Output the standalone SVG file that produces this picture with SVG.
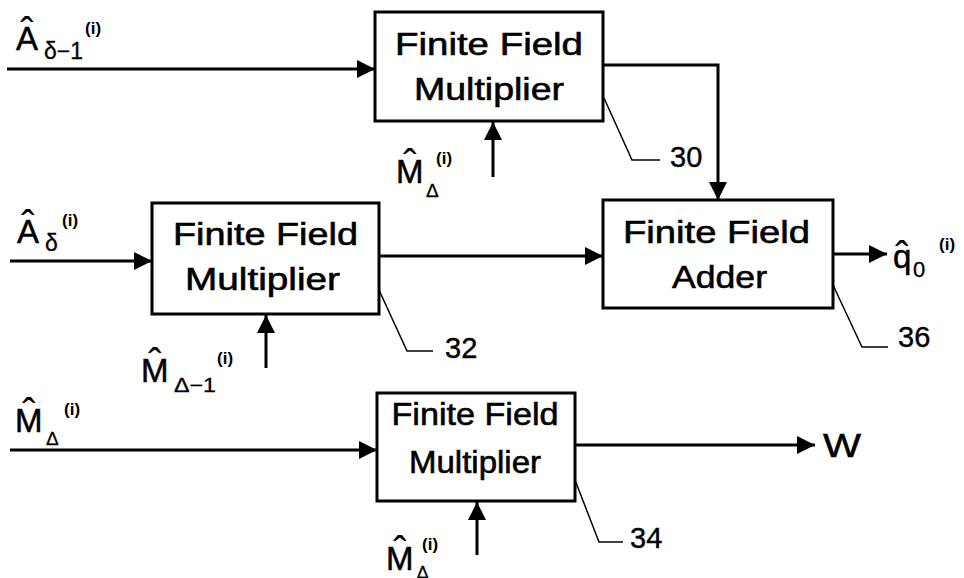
<svg xmlns="http://www.w3.org/2000/svg" width="964" height="578" viewBox="0 0 964 578">
  <defs>
    <marker id="arrow" viewBox="0 0 10 10" refX="10" refY="5" markerWidth="6" markerHeight="6" orient="auto" markerUnits="strokeWidth">
      <path d="M0,0 L10,5 L0,10 Z" fill="#000"/>
    </marker>
    <style>
      .box { fill: #fff; stroke: #000; stroke-width: 3; }
      .wire { fill: none; stroke: #000; stroke-width: 3; marker-end: url(#arrow); }
      .lead { fill: none; stroke: #000; stroke-width: 1.5; }
      text { font-family: "Liberation Sans", Arial, sans-serif; fill: #000; }
      .lbl { font-size: 32px; text-anchor: middle; stroke: #000; stroke-width: 0.6; }
      .var { font-size: 33px; stroke: #000; stroke-width: 0.5; }
      .sub { font-size: 23px; stroke: #000; stroke-width: 0.3; }
      .sup { font-size: 17px; font-weight: bold; }
      .hat { font-size: 40px; text-anchor: middle; }
      .num { font-size: 29px; stroke: #000; stroke-width: 0.4; }
    </style>
  </defs>
  <rect width="964" height="578" fill="#fff"/>

  <!-- signal wires and reference leaders -->
  <g id="connectors">
    <line class="wire" x1="7" y1="69" x2="375" y2="69"/>
    <line class="wire" x1="493" y1="177" x2="493" y2="122"/>
    <polyline class="wire" points="603,65 718,65 718,200"/>
    <line class="wire" x1="10" y1="261" x2="152" y2="261"/>
    <line class="wire" x1="266" y1="368" x2="266" y2="315"/>
    <line class="wire" x1="379" y1="256" x2="603" y2="256"/>
    <line class="wire" x1="833" y1="254" x2="887" y2="254"/>
    <line class="wire" x1="10" y1="450" x2="377" y2="450"/>
    <line class="wire" x1="477" y1="555" x2="477" y2="502"/>
    <line class="wire" x1="575" y1="445" x2="815" y2="445"/>
    <polyline class="lead" points="604,98 632,160 660,160"/>
    <polyline class="lead" points="379,290 407,351 433,351"/>
    <polyline class="lead" points="833,285 862,347 888,347"/>
    <polyline class="lead" points="575,480 599,542 623,542"/>
  </g>

  <!-- multiplier 30 -->
  <g id="mult30">
    <rect class="box" x="375" y="12" width="228" height="109"/>
    <text class="lbl" x="489" y="55" textLength="188" lengthAdjust="spacingAndGlyphs">Finite Field</text>
    <text class="lbl" x="489" y="100" textLength="150" lengthAdjust="spacingAndGlyphs">Multiplier</text>
    <text class="num" x="670" y="167">30</text>
  </g>

  <!-- multiplier 32 -->
  <g id="mult32">
    <rect class="box" x="152" y="203" width="227" height="111"/>
    <text class="lbl" x="265.5" y="245" textLength="185" lengthAdjust="spacingAndGlyphs">Finite Field</text>
    <text class="lbl" x="262.5" y="290" textLength="155" lengthAdjust="spacingAndGlyphs">Multiplier</text>
    <text class="num" x="445" y="358">32</text>
  </g>

  <!-- adder 36 -->
  <g id="adder36">
    <rect class="box" x="603" y="200" width="230" height="108"/>
    <text class="lbl" x="716.5" y="243" textLength="187" lengthAdjust="spacingAndGlyphs">Finite Field</text>
    <text class="lbl" x="719.5" y="288" textLength="95" lengthAdjust="spacingAndGlyphs">Adder</text>
    <text class="num" x="898" y="347">36</text>
  </g>

  <!-- multiplier 34 -->
  <g id="mult34">
    <rect class="box" x="377" y="393" width="198" height="108"/>
    <text class="lbl" x="475" y="425" textLength="167" lengthAdjust="spacingAndGlyphs">Finite Field</text>
    <text class="lbl" x="475" y="473" textLength="132" lengthAdjust="spacingAndGlyphs">Multiplier</text>
    <text class="num" x="630" y="548">34</text>
  </g>

  <!-- input / output symbols -->
  <g id="in-a-delta-1">
    <text class="var" x="16" y="50">A</text>
    <text class="hat" x="27" y="46">ˆ</text>
    <text class="sub" x="44" y="59" textLength="39" lengthAdjust="spacingAndGlyphs">δ−1</text>
    <text class="sup" x="85" y="34">(i)</text>
  </g>
  <g id="in-a-delta">
    <text class="var" x="17" y="243">A</text>
    <text class="hat" x="28" y="239">ˆ</text>
    <text class="sub" x="45" y="251">δ</text>
    <text class="sup" x="62" y="226">(i)</text>
  </g>
  <g id="in-m-top">
    <text class="var" x="396" y="183">M</text>
    <text class="hat" x="410" y="178">ˆ</text>
    <text class="sub" x="426" y="197" style="font-size:19px">Δ</text>
    <text class="sup" x="436" y="164">(i)</text>
  </g>
  <g id="in-m-mid">
    <text class="var" x="141" y="382">M</text>
    <text class="hat" x="155" y="377">ˆ</text>
    <text class="sub" x="174" y="392" style="font-size:20px" textLength="42" lengthAdjust="spacingAndGlyphs">Δ−1</text>
    <text class="sup" x="217" y="364">(i)</text>
  </g>
  <g id="in-m-left">
    <text class="var" x="15" y="432">M</text>
    <text class="hat" x="29" y="427">ˆ</text>
    <text class="sub" x="46" y="445" style="font-size:19px">Δ</text>
    <text class="sup" x="64" y="415">(i)</text>
  </g>
  <g id="in-m-bottom">
    <text class="var" x="386" y="570">M</text>
    <text class="hat" x="400" y="565">ˆ</text>
    <text class="sub" x="417" y="578" style="font-size:17px">Δ</text>
    <text class="sup" x="422" y="550">(i)</text>
  </g>
  <g id="out-q">
    <text class="var" x="893" y="268">q</text>
    <text class="hat" x="902" y="270">ˆ</text>
    <text class="sub" x="913" y="277" style="font-size:22px">0</text>
    <text class="sup" x="939" y="250">(i)</text>
  </g>
  <g id="out-w">
    <text class="var" x="823" y="457" textLength="38" lengthAdjust="spacingAndGlyphs">W</text>
  </g>
</svg>
